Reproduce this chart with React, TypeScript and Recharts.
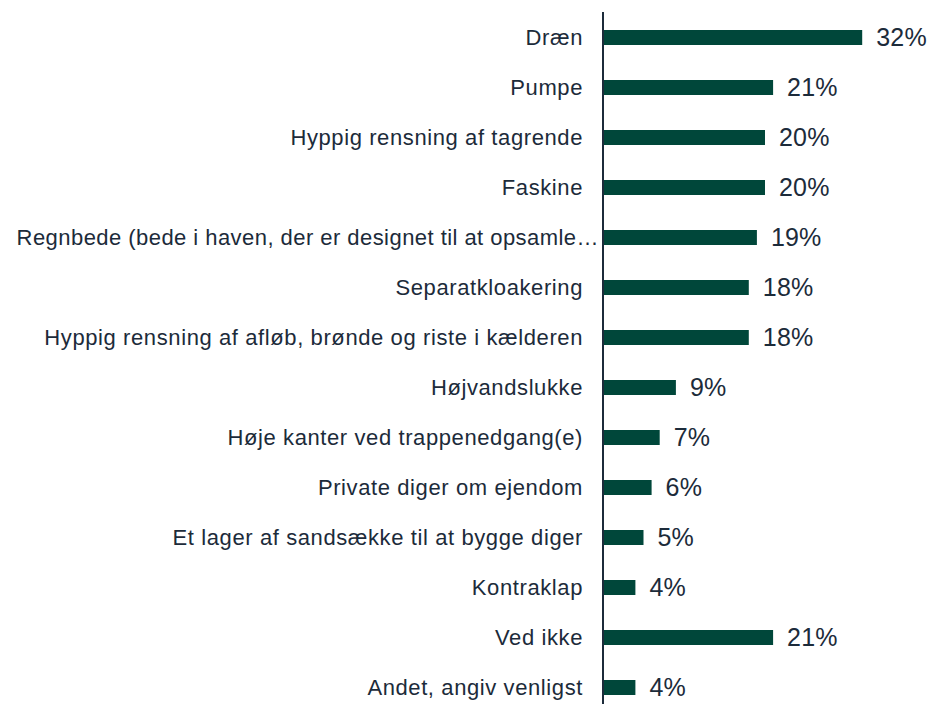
import React from "react";
import { BarChart, Bar, XAxis, YAxis, LabelList } from "recharts";

const categories = [
  "Dræn",
  "Pumpe",
  "Hyppig rensning af tagrende",
  "Faskine",
  "Regnbede (bede i haven, der er designet til at opsamle…",
  "Separatkloakering",
  "Hyppig rensning af afløb, brønde og riste i kælderen",
  "Højvandslukke",
  "Høje kanter ved trappenedgang(e)",
  "Private diger om ejendom",
  "Et lager af sandsække til at bygge diger",
  "Kontraklap",
  "Ved ikke",
  "Andet, angiv venligst",
];
const values = [32, 21, 20, 20, 19, 18, 18, 9, 7, 6, 5, 4, 21, 4];

const data = categories.map((name, i) => ({ name, value: values[i] }));

const FONT = "'Liberation Sans', Arial, Helvetica, sans-serif";
const TEXT = "#1c2b3a";
const BAR = "#00473a";

const Tick = (props: any) => {
  const { x, y, payload } = props;
  const label: string = payload.value;
  const truncated = label.endsWith("…");
  return (
    <text
      x={x + (truncated ? 16 : 0)}
      y={y}
      dy="0.355em"
      textAnchor="end"
      fill={TEXT}
      fontSize={22}
      fontFamily={FONT}
      letterSpacing={truncated ? 0.45 : 0.6}
    >
      {label}
    </text>
  );
};

export default function App() {
  return (
    <div style={{ position: "absolute", left: 0, top: 0, fontFamily: FONT }}>
      <BarChart
        width={931}
        height={712}
        data={data}
        layout="vertical"
        margin={{ top: 12, right: 4, bottom: 0, left: 8 }}
        barCategoryGap={0}
      >
        <XAxis type="number" domain={[0, 40]} hide />
        <YAxis
          type="category"
          dataKey="name"
          width={595}
          interval={0}
          tickLine={false}
          tickSize={0}
          tickMargin={20}
          axisLine={{ stroke: TEXT, strokeWidth: 2 }}
          tick={<Tick />}
        />
        <Bar dataKey="value" fill={BAR} barSize={15} isAnimationActive={false}>
          <LabelList
            dataKey="value"
            position="right"
            offset={14}
            formatter={(v: number) => `${v}%`}
            style={{ fill: TEXT, fontSize: 25, fontFamily: FONT, letterSpacing: 0.2 }}
          />
        </Bar>
      </BarChart>
    </div>
  );
}
